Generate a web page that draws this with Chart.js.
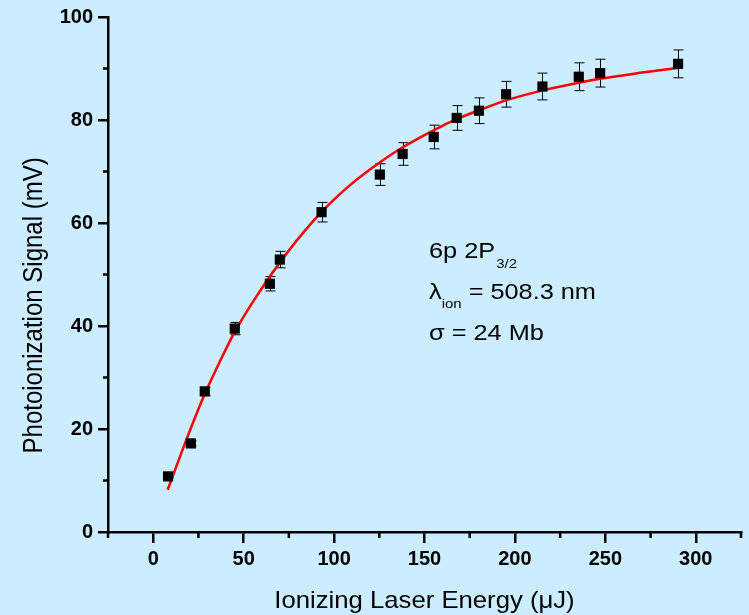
<!DOCTYPE html>
<html>
<head>
<meta charset="utf-8">
<script src="https://cdn.jsdelivr.net/npm/chart.js@4.4.0/dist/chart.umd.min.js"></script>
<style>
  html, body { margin: 0; padding: 0; background: #ccecff; }
  canvas { display: block; }
</style>
</head>
<body>
<canvas id="chart" width="749" height="615"></canvas>
<script>
// --- data ---
const energy = [8.2, 20.8, 28.5, 45.1, 64.5, 70, 93.1, 125.3, 137.9, 155.1, 167.8, 180.1, 195.1, 215.2, 235.3, 247.1, 290.2];
const signal = [10.8, 17.2, 27.3, 39.5, 48.2, 52.9, 62.1, 69.4, 73.4, 76.7, 80.4, 81.8, 85.0, 86.5, 88.4, 89.1, 90.9];
const signalErr = [0.3, 0.5, 0.8, 1.2, 1.4, 1.6, 1.9, 2.1, 2.2, 2.3, 2.4, 2.5, 2.5, 2.6, 2.7, 2.7, 2.7];

// red fit curve
const fitX = [8, 18, 28, 37, 45, 57, 74, 93, 109, 125, 138, 155, 168, 181, 195, 216, 236, 247, 266, 290];
const fitY = [8.2, 17.6, 26.4, 33.2, 38.8, 45.7, 54.2, 62.1, 67.4, 71.7, 74.7, 78.0, 80.2, 82.0, 83.8, 85.8, 87.3, 88.0, 89.0, 90.1];

const xMajor = [0, 50, 100, 150, 200, 250, 300];
const xMinor = [-25, 25, 75, 125, 175, 225, 275, 325];
const yMajor = [0, 20, 40, 60, 80, 100];
const yMinor = [10, 30, 50, 70, 90];

const xTitle = 'Ionizing Laser Energy (μJ)';
const yTitle = 'Photoionization Signal (mV)';

const FONT = "Arial, 'Liberation Sans', sans-serif";
const BG = '#ccecff';
const STRETCH = 1.12; // the original text is a bit wide for its height

// --- plugins ---
const bgPlugin = {
    id: 'bg',
    beforeDraw(chart) {
        const ctx = chart.ctx;
        ctx.save();
        ctx.fillStyle = BG;
        ctx.fillRect(0, 0, chart.width, chart.height);
        ctx.restore();
    }
};

const errorBars = {
    id: 'errorBars',
    beforeDatasetsDraw(chart) {
        const { ctx, scales: { x, y } } = chart;
        ctx.save();
        ctx.strokeStyle = '#000';
        ctx.lineWidth = 1;
        energy.forEach((e, i) => {
            const px = Math.round(x.getPixelForValue(e)) + 0.5;
            const top = y.getPixelForValue(signal[i] + signalErr[i]);
            const bot = y.getPixelForValue(signal[i] - signalErr[i]);
            ctx.beginPath();
            ctx.moveTo(px, top); ctx.lineTo(px, bot);
            ctx.moveTo(px - 5, top); ctx.lineTo(px + 5, top);
            ctx.moveTo(px - 5, bot); ctx.lineTo(px + 5, bot);
            ctx.stroke();
        });
        ctx.restore();
    }
};

const minorTicks = {
    id: 'minorTicks',
    afterDraw(chart) {
        const { ctx, chartArea, scales: { x, y } } = chart;
        ctx.save();
        ctx.strokeStyle = '#000';
        ctx.lineWidth = 2.5;
        ctx.beginPath();
        xMinor.forEach(v => {
            const px = x.getPixelForValue(v);
            ctx.moveTo(px, chartArea.bottom);
            ctx.lineTo(px, chartArea.bottom + 6);
        });
        yMinor.forEach(v => {
            const py = y.getPixelForValue(v);
            ctx.moveTo(chartArea.left, py);
            ctx.lineTo(chartArea.left - 5, py);
        });
        ctx.stroke();
        ctx.restore();
    }
};

// axis titles, drawn by hand so they can be widened like the original
const axisTitles = {
    id: 'axisTitles',
    afterDraw(chart) {
        const { ctx, chartArea, scales: { y } } = chart;
        ctx.save();
        ctx.fillStyle = '#000';
        ctx.font = '24px ' + FONT;
        ctx.textBaseline = 'alphabetic';
        ctx.textAlign = 'center';

        ctx.save();
        ctx.translate((chartArea.left + chartArea.right) / 2, chart.height - 7);
        ctx.scale(1.07, 1);
        ctx.fillText(xTitle, 0, 0);
        ctx.restore();

        ctx.save();
        ctx.translate(42, y.getPixelForValue(44));
        ctx.rotate(-Math.PI / 2);
        ctx.scale(1, STRETCH);
        ctx.fillText(yTitle, 0, 0);
        ctx.restore();

        ctx.restore();
    }
};

// text block: 6p 2P3/2, lambda_ion, sigma
const annotation = {
    id: 'annotation',
    afterDraw(chart) {
        const { ctx, scales: { x, y } } = chart;
        const big = '22px ' + FONT;
        const small = '13px ' + FONT;
        ctx.save();
        ctx.fillStyle = '#000';
        ctx.textBaseline = 'alphabetic';
        ctx.textAlign = 'left';
        ctx.translate(x.getPixelForValue(152.5), 0);
        ctx.scale(1.15, 1);

        let base = y.getPixelForValue(53.3);
        ctx.font = big;
        ctx.fillText('6p 2P', 0, base);
        let w = ctx.measureText('6p 2P').width;
        ctx.font = small;
        ctx.fillText('3/2', w + 1, base + 10);

        base = y.getPixelForValue(45.2);
        ctx.font = big;
        ctx.fillText('λ', 0, base);
        w = ctx.measureText('λ').width;
        ctx.font = small;
        ctx.fillText('ion', w, base + 9);
        const w2 = ctx.measureText('ion').width;
        ctx.font = big;
        ctx.fillText(' = 508.3 nm', w + w2, base);

        base = y.getPixelForValue(37.2);
        ctx.fillText('σ = 24 Mb', 0, base);
        ctx.restore();
    }
};

new Chart(document.getElementById('chart'), {
    type: 'scatter',
    data: {
        datasets: [
            {
                type: 'line',
                data: fitX.map((v, i) => ({ x: v, y: fitY[i] })),
                borderColor: '#ff0000',
                borderWidth: 2.5,
                pointRadius: 0,
                cubicInterpolationMode: 'monotone',
                fill: false,
                order: 2
            },
            {
                data: energy.map((v, i) => ({ x: v, y: signal[i] })),
                backgroundColor: '#000',
                borderWidth: 0,
                pointStyle: 'rect',
                pointRadius: 7.2,
                order: 1
            }
        ]
    },
    options: {
        responsive: false,
        animation: false,
        layout: { padding: { top: 16, right: 8, left: 0, bottom: 0 } },
        plugins: { legend: { display: false }, tooltip: { enabled: false } },
        scales: {
            x: {
                type: 'linear',
                min: -25,
                max: 325,
                afterBuildTicks: s => { s.ticks = xMajor.map(v => ({ value: v })); },
                afterFit: s => { s.height = 83; },
                border: { color: '#000', width: 2.5 },
                grid: { drawOnChartArea: false, color: '#000', lineWidth: 2.5, tickLength: 11 },
                ticks: { color: '#000', padding: 4, font: { family: FONT, size: 20, weight: 'bold' } }
            },
            y: {
                min: 0,
                max: 100,
                afterBuildTicks: s => { s.ticks = yMajor.map(v => ({ value: v })); },
                afterFit: s => { s.width = 108; },
                border: { color: '#000', width: 2.5 },
                grid: { drawOnChartArea: false, color: '#000', lineWidth: 2.5, tickLength: 10 },
                ticks: { color: '#000', padding: 5, font: { family: FONT, size: 20, weight: 'bold' } }
            }
        }
    },
    plugins: [bgPlugin, errorBars, minorTicks, axisTitles, annotation]
});
</script>
</body>
</html>
